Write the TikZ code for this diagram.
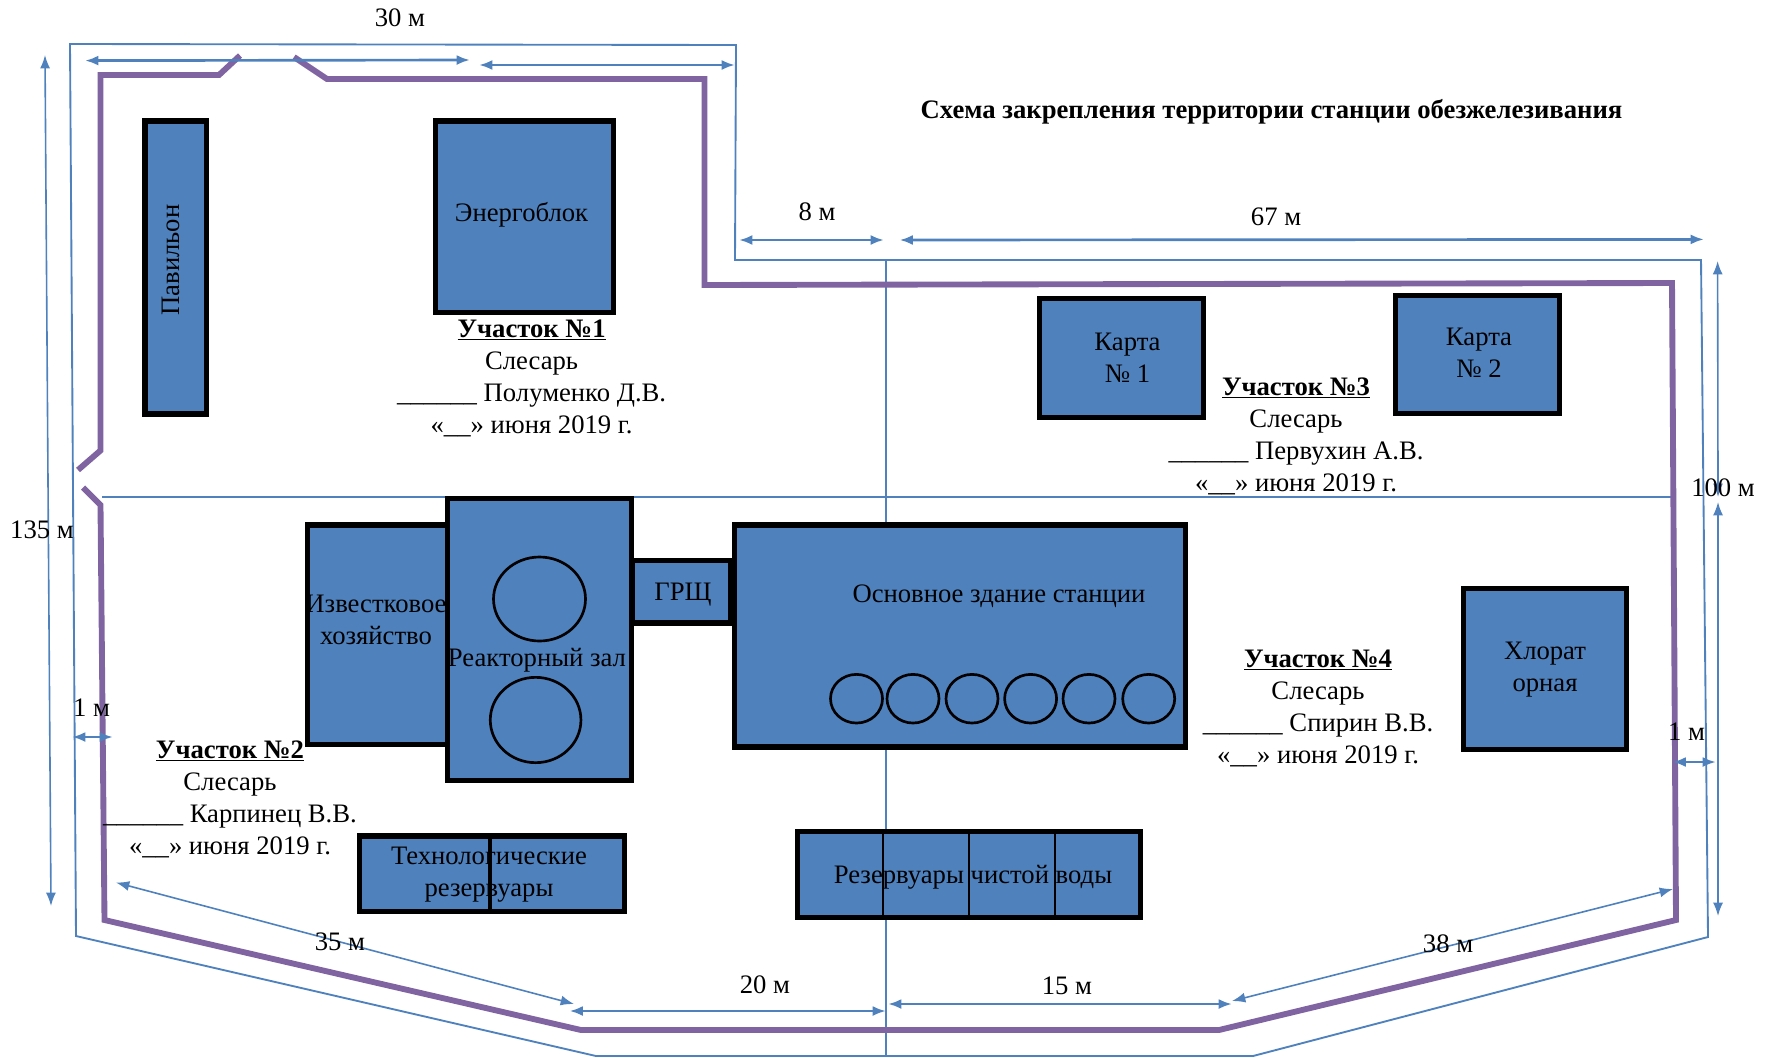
\documentclass[tikz,border=0pt]{standalone}
\usepackage{fontspec}
\setmainfont{Liberation Serif}
\usetikzlibrary{arrows.meta,shapes.geometric}
\definecolor{bfill}{HTML}{4F81BD}
\definecolor{fence}{HTML}{8064A2}
\tikzset{
  bline/.style={draw=bfill,line width=1.4pt},
  fenceline/.style={draw=fence,line width=4.4pt,line join=miter},
  dimA/.style={draw=bfill,line width=2pt,{Latex[length=10pt,width=7.5pt]}-{Latex[length=10pt,width=7.5pt]}},
  dimB/.style={draw=bfill,line width=1.2pt,{Latex[length=10pt,width=7.5pt]}-{Latex[length=10pt,width=7.5pt]}},
  bld/.style={draw=black,fill=bfill,line width=4pt,inner sep=0pt,outer sep=0pt},
  circ/.style={ellipse,draw=black,line width=2pt,inner sep=0pt,outer sep=0pt},
  txt/.style={font=\fontsize{20}{24}\selectfont,inner sep=0pt,align=center,text=black},
  head/.style={font=\fontsize{20}{24}\selectfont,inner sep=0pt,align=center,text=black},
}
\newcommand{\bldg}[5]{%
  \pgfmathsetmacro{\wdw}{(#4-#2-5.3)*0.75}%
  \pgfmathsetmacro{\wdh}{(#5-#3-5.3)*0.75}%
  \node[bld,minimum width=\wdw pt,minimum height=\wdh pt] (#1) at ({(#2+#4)/2},{(#3+#5)/2}) {};}
\newcommand{\duty}[6]{%
  \node[head] (#1) at (#2,#3) {\textbf{\underline{#4}}\\Слесарь\\\_\_\_\_\_\_ #5\\«\_\_» июня 2019 г.};}
\begin{document}
\begin{tikzpicture}[x=0.75pt,y=-0.75pt]
\useasboundingbox (0,0) rectangle (1772,1057);
% outer boundary
\coordinate (o1) at (70,44);
\coordinate (o2) at (736,45);
\coordinate (o3) at (735,260);
\coordinate (o4) at (1701,260);
\coordinate (o5) at (1708,937);
\coordinate (o6) at (1253,1056);
\coordinate (o7) at (596,1056);
\coordinate (o8) at (76,936);
\draw[bline] (o1)--(o2)--(o3)--(o4)--(o5)--(o6)--(o7)--(o8)--cycle;
% inner axes
\coordinate (h1) at (102,497);
\coordinate (h2) at (1671,497);
\coordinate (v1) at (886,260);
\coordinate (v2) at (886,1056);
\draw[bline] (h1)--(h2);
\draw[bline] (v1)--(v2);
% fence
\coordinate (f1) at (240,55.5);
\coordinate (f2) at (219,75);
\coordinate (f3) at (100.5,75);
\coordinate (f4) at (100.5,450.5);
\coordinate (f5) at (78,470);
\draw[fenceline] (f1)--(f2)--(f3)--(f4)--(f5);
\coordinate (g1) at (294,57);
\coordinate (g2) at (327,79);
\coordinate (g3) at (704.5,79);
\coordinate (g4) at (704.5,285);
\coordinate (g5) at (1672,283);
\coordinate (g6) at (1676,920);
\coordinate (g7) at (1219,1030);
\coordinate (g8) at (581,1030);
\coordinate (g9) at (104.5,920);
\coordinate (g10) at (100.5,505);
\coordinate (g11) at (83,487.5);
\draw[fenceline] (g1)--(g2)--(g3)--(g4)--(g5)--(g6)--(g7)--(g8)--(g9)--(g10)--(g11);
% dimension arrows
\coordinate (a1) at (85,60.6);   \coordinate (a2) at (470,60);
\coordinate (b1) at (479,65);    \coordinate (b2) at (735,65);
\coordinate (c1) at (45,55);     \coordinate (c2) at (51,906);
\coordinate (d1) at (739,240);   \coordinate (d2) at (884,240);
\coordinate (e1) at (899.5,240); \coordinate (e2) at (1704,239.4);
\coordinate (i1) at (1717.6,261);\coordinate (i2) at (1718,497);
\coordinate (j1) at (1718,502);  \coordinate (j2) at (1718,916);
\coordinate (k1) at (72,737);    \coordinate (k2) at (113,737);
\coordinate (l1) at (116,882.5); \coordinate (l2) at (574,1004);
\coordinate (m1) at (569.5,1011);\coordinate (m2) at (886,1011);
\coordinate (n1) at (888,1004);  \coordinate (n2) at (1232,1004);
\coordinate (p1) at (1232,1001); \coordinate (p2) at (1673,889);
\coordinate (q1) at (1672.5,762);\coordinate (q2) at (1716,762);
\draw[dimA] (a1)--(a2);
\draw[dimA] (b1)--(b2);
\draw[dimB] (c1)--(c2);
\draw[dimA] (d1)--(d2);
\draw[dimA] (e1)--(e2);
\draw[dimB] (i1)--(i2);
\draw[dimB] (j1)--(j2);
\draw[dimA] (k1)--(k2);
\draw[dimB] (l1)--(l2);
\draw[dimA] (m1)--(m2);
\draw[dimA] (n1)--(n2);
\draw[dimB] (p1)--(p2);
\draw[dimA] (q1)--(q2);
% buildings
\bldg{pav}{142.4}{118.5}{209}{416.5}
\bldg{ener}{433}{118.5}{616}{315}
\bldg{k1b}{1037}{296}{1206}{420}
\bldg{k2b}{1393}{292.6}{1562}{416}
\bldg{izv}{305}{522.5}{450}{747}
\bldg{grs}{630}{558}{733}{625.6}
\bldg{reak}{445}{496}{634}{783}
\bldg{main}{731.6}{522.5}{1188}{749.5}
\bldg{hlor}{1460.6}{586}{1629}{752}
\bldg{tech}{357}{833.4}{627}{914}
\bldg{resv}{795}{829}{1143}{920}
% dividers
\coordinate (t1) at (490,836); \coordinate (t2) at (490,911);
\draw[black,line width=2.6pt] (t1)--(t2);
\coordinate (r1) at (883,832); \coordinate (r2) at (883,917);
\coordinate (r3) at (969,832); \coordinate (r4) at (969,917);
\coordinate (r5) at (1055,832); \coordinate (r6) at (1055,917);
\draw[black,line width=1.6pt] (r1)--(r2);
\draw[black,line width=1.6pt] (r3)--(r4);
\draw[black,line width=1.6pt] (r5)--(r6);
% circles
\node[circ,minimum width=69pt,minimum height=63pt] (rc1) at (539.5,599) {};
\node[circ,minimum width=68pt,minimum height=64pt] (rc2) at (535.6,720) {};
\foreach \n/\cx in {1/856.5,2/913,3/972,4/1030.6,5/1089,6/1148.7}
  \node[circ,minimum width=39pt,minimum height=36.5pt] (mc\n) at (\cx,698.7) {};
% building labels
\node[txt,rotate=90] (tpav) at (171,260) {Павильон};
\node[txt] (tener) at (521.5,215) {Энергоблок};
\node[txt] (tk1) at (1127.5,358) {Карта\\№ 1};
\node[txt] (tk2) at (1479,353) {Карта\\№ 2};
\node[txt] (tizv) at (376,620) {Известковое\\хозяйство};
\node[txt] (treak) at (537,660) {Реакторный зал};
\node[txt] (tgrs) at (683,595) {ГРЩ};
\node[txt] (tmain) at (999,596) {Основное здание станции};
\node[txt] (thlor) at (1545,670) {Хлорат\\орная};
\node[txt] (ttech) at (489,875) {Технологические\\резервуары};
\node[txt] (tresv) at (973,877) {Резервуары чистой воды};
% title
\node[txt] (title) at (1271.5,112) {\textbf{Схема закрепления территории станции обезжелезивания}};
% dimension labels
\node[txt] (l30) at (400,18) {30 м};
\node[txt] (l8) at (817,212) {8 м};
\node[txt] (l67) at (1276,217) {67 м};
\node[txt] (l135) at (42,530) {135 м};
\node[txt] (l100) at (1723,488) {100 м};
\node[txt] (l1a) at (91.5,708) {1 м};
\node[txt] (l35) at (340,942) {35 м};
\node[txt] (l20) at (765,985) {20 м};
\node[txt] (l15) at (1067,986) {15 м};
\node[txt] (l38) at (1448,944) {38 м};
\node[txt] (l1b) at (1686.6,732) {1 м};
% duty blocks
\duty{u1}{531.6}{378}{Участок №1}{Полуменко Д.В.}{}
\duty{u3}{1296}{436}{Участок №3}{Первухин А.В.}{}
\duty{u2}{230}{799}{Участок №2}{Карпинец В.В.}{}
\duty{u4}{1318}{708}{Участок №4}{Спирин В.В.}{}
\end{tikzpicture}
\end{document}
